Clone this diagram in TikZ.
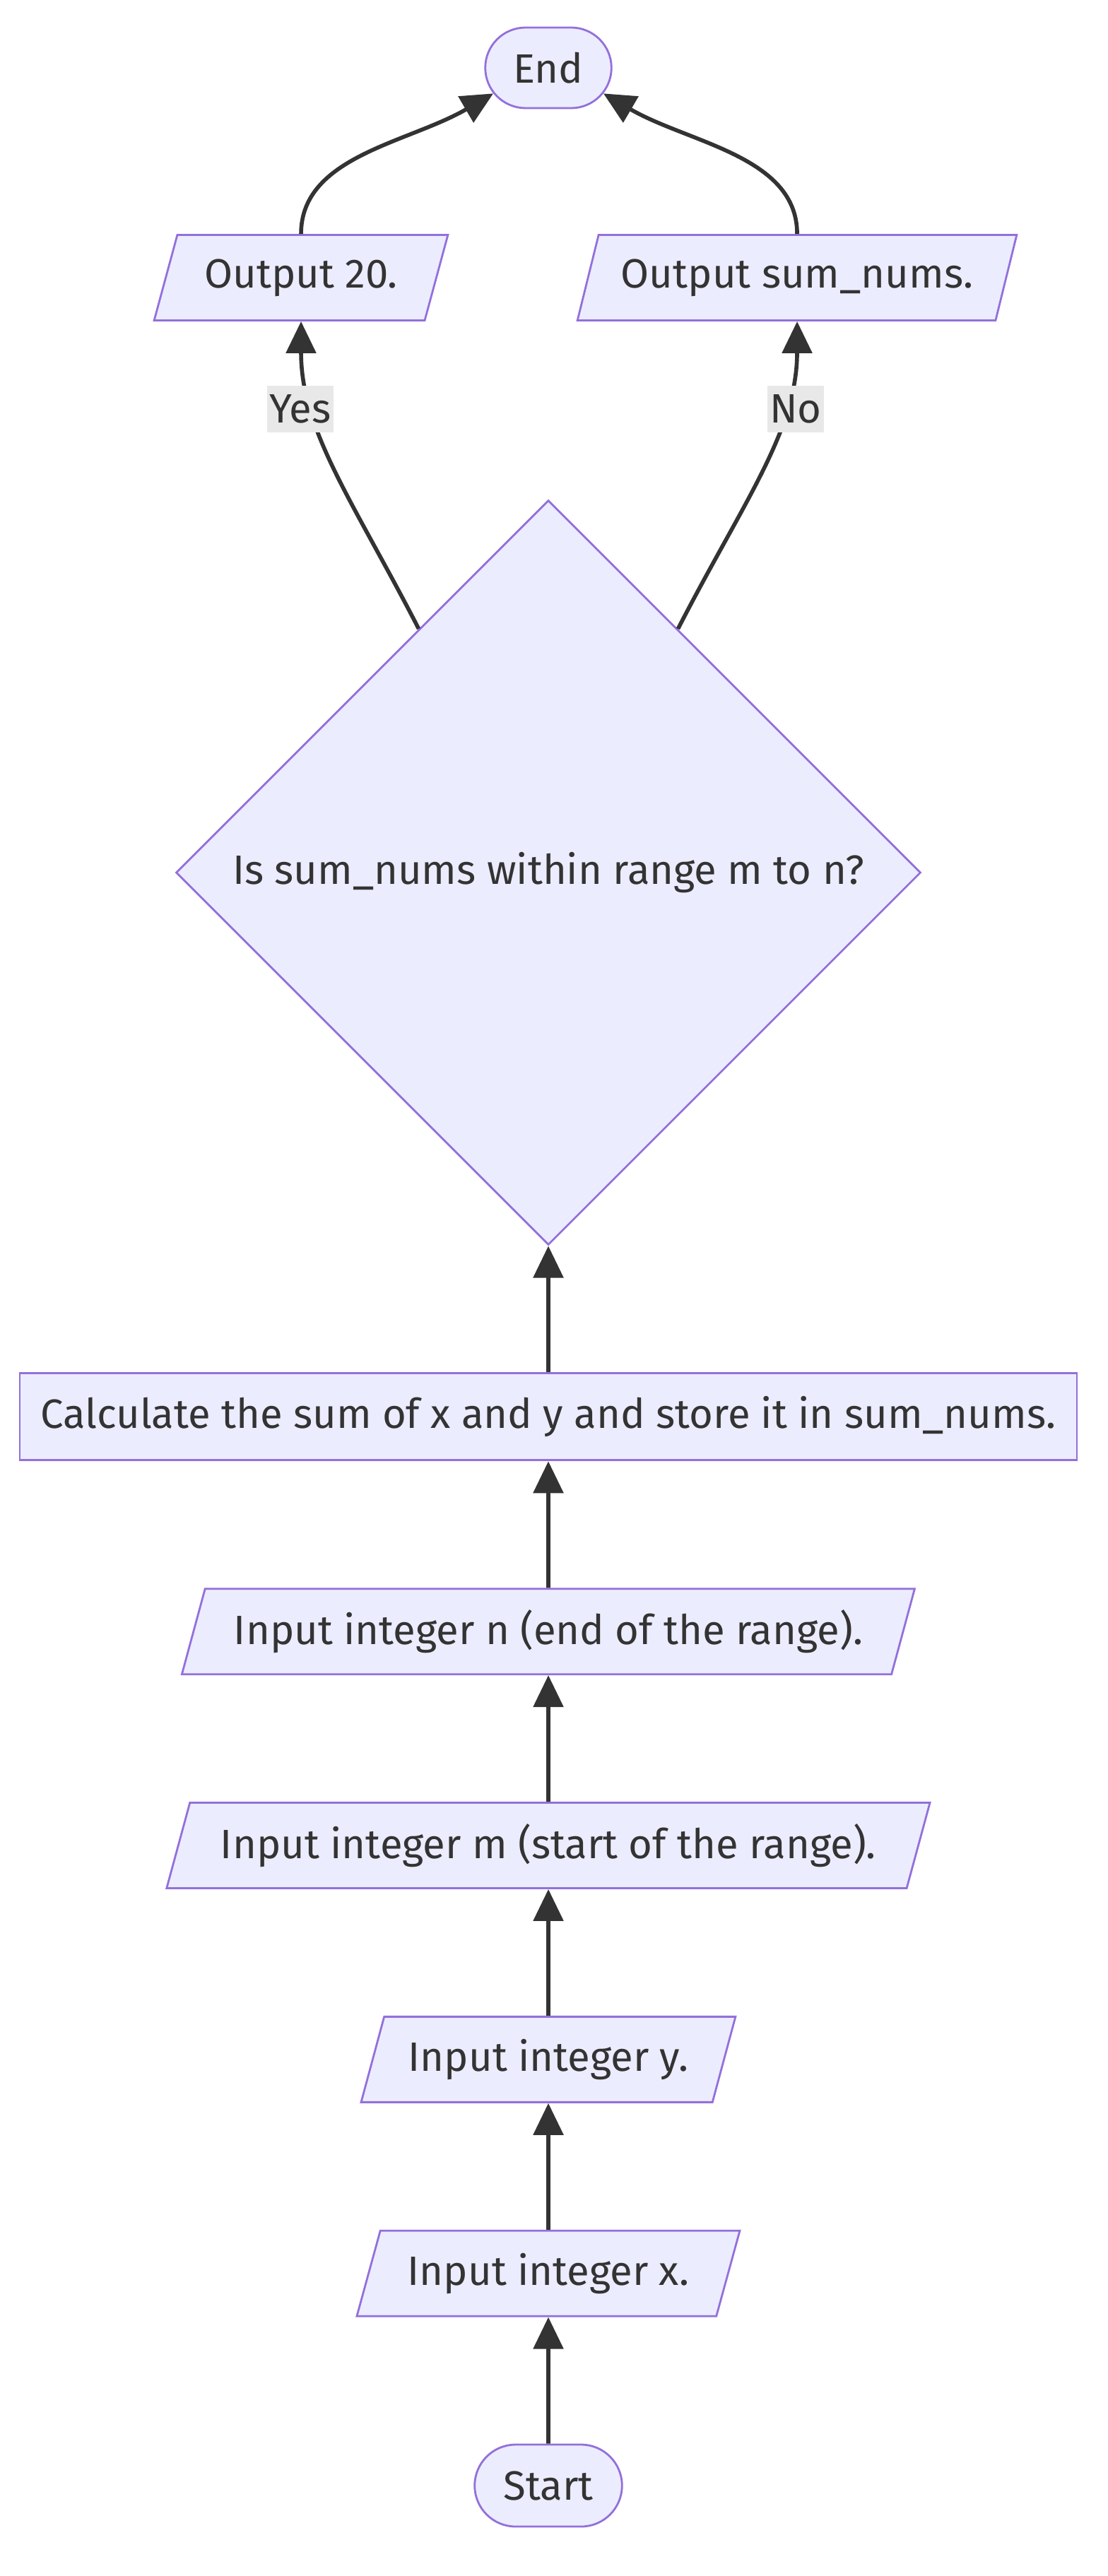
\documentclass[tikz,border=0pt]{standalone}
\usepackage{fontspec}
\setmainfont{Fira Sans}
\usepackage{tikz}
\usetikzlibrary{positioning, arrows.meta, shapes.geometric, shapes.misc}
\definecolor{nodeFill}{HTML}{ECECFF}
\definecolor{nodeLine}{HTML}{9370DB}
\definecolor{txtDark}{HTML}{333333}
\definecolor{lblBg}{HTML}{E8E8E8}
\newcommand{\flowfont}{\fontsize{16.5}{19.5}\selectfont}

\begin{document}
\begin{tikzpicture}[node distance=1.79cm,
  box/.style={draw=nodeLine, fill=nodeFill, line width=0.8pt, text=txtDark, font=\flowfont, minimum height=1.21cm},
  term/.style={box, rounded rectangle, minimum height=1.16cm},
  io/.style={box, trapezium, trapezium left angle=70, trapezium right angle=110, trapezium stretches=true},
  proc/.style={box, rectangle, minimum height=1.23cm},
  dec/.style={box, diamond, aspect=1, minimum width=10.54cm, minimum height=10.54cm},
  elbl/.style={fill=lblBg, text=txtDark, font=\flowfont, inner xsep=1pt, inner ysep=0pt, minimum height=0.66cm},
  flow/.style={draw=txtDark, line width=1.6pt, -{Triangle[length=0.45cm, width=0.42cm]}}]
\useasboundingbox (0,0) rectangle (15.68,-36.46);
% main column, bottom to top
\node[term, minimum width=2.32cm] (start) at (7.76,-35.18) {Start};
\node[io, minimum width=5.42cm, above=of start] (inx) {Input integer x.};
\node[io, minimum width=5.30cm, above=of inx] (iny) {Input integer y.};
\node[io, minimum width=10.82cm, above=of iny] (inm) {Input integer m (start of the range).};
\node[io, minimum width=10.38cm, above=of inm] (inn) {Input integer n (end of the range).};
\node[proc, minimum width=14.96cm, above=of inn] (calc) {Calculate the sum of x and y and store it in sum\_nums.};
\node[dec, above=of calc] (chk) {Is sum\_nums within range m to n?};
% outputs and end
\node[io, minimum width=4.19cm] (out20) at (4.26,-3.93) {Output 20.};
\node[io, minimum width=6.23cm] (outsum) at (11.28,-3.93) {Output sum\_nums.};
\node[term, minimum width=2.02cm, minimum height=1.14cm] (end) at (7.76,-0.96) {End};
\draw[flow] (start) -- (inx);
\draw[flow] (inx) -- (iny);
\draw[flow] (iny) -- (inm);
\draw[flow] (inm) -- (inn);
\draw[flow] (inn) -- (calc);
\draw[flow] (calc) -- (chk);
\draw[flow] (chk.118) .. controls (5.0,-7.1) and (4.26,-6.1) .. (out20.south);
\draw[flow] (chk.62) .. controls (10.52,-7.1) and (11.28,-6.1) .. (outsum.south);
\draw[flow] (out20.north) .. controls +(0,1.1) and +(-1.2,-0.7) .. (end.205);
\draw[flow] (outsum.north) .. controls +(0,1.1) and +(1.2,-0.7) .. (end.335);
\node[elbl] (lyes) at (4.25,-5.79) {Yes};
\node[elbl] (lno) at (11.26,-5.79) {No};
\end{tikzpicture}
\end{document}
